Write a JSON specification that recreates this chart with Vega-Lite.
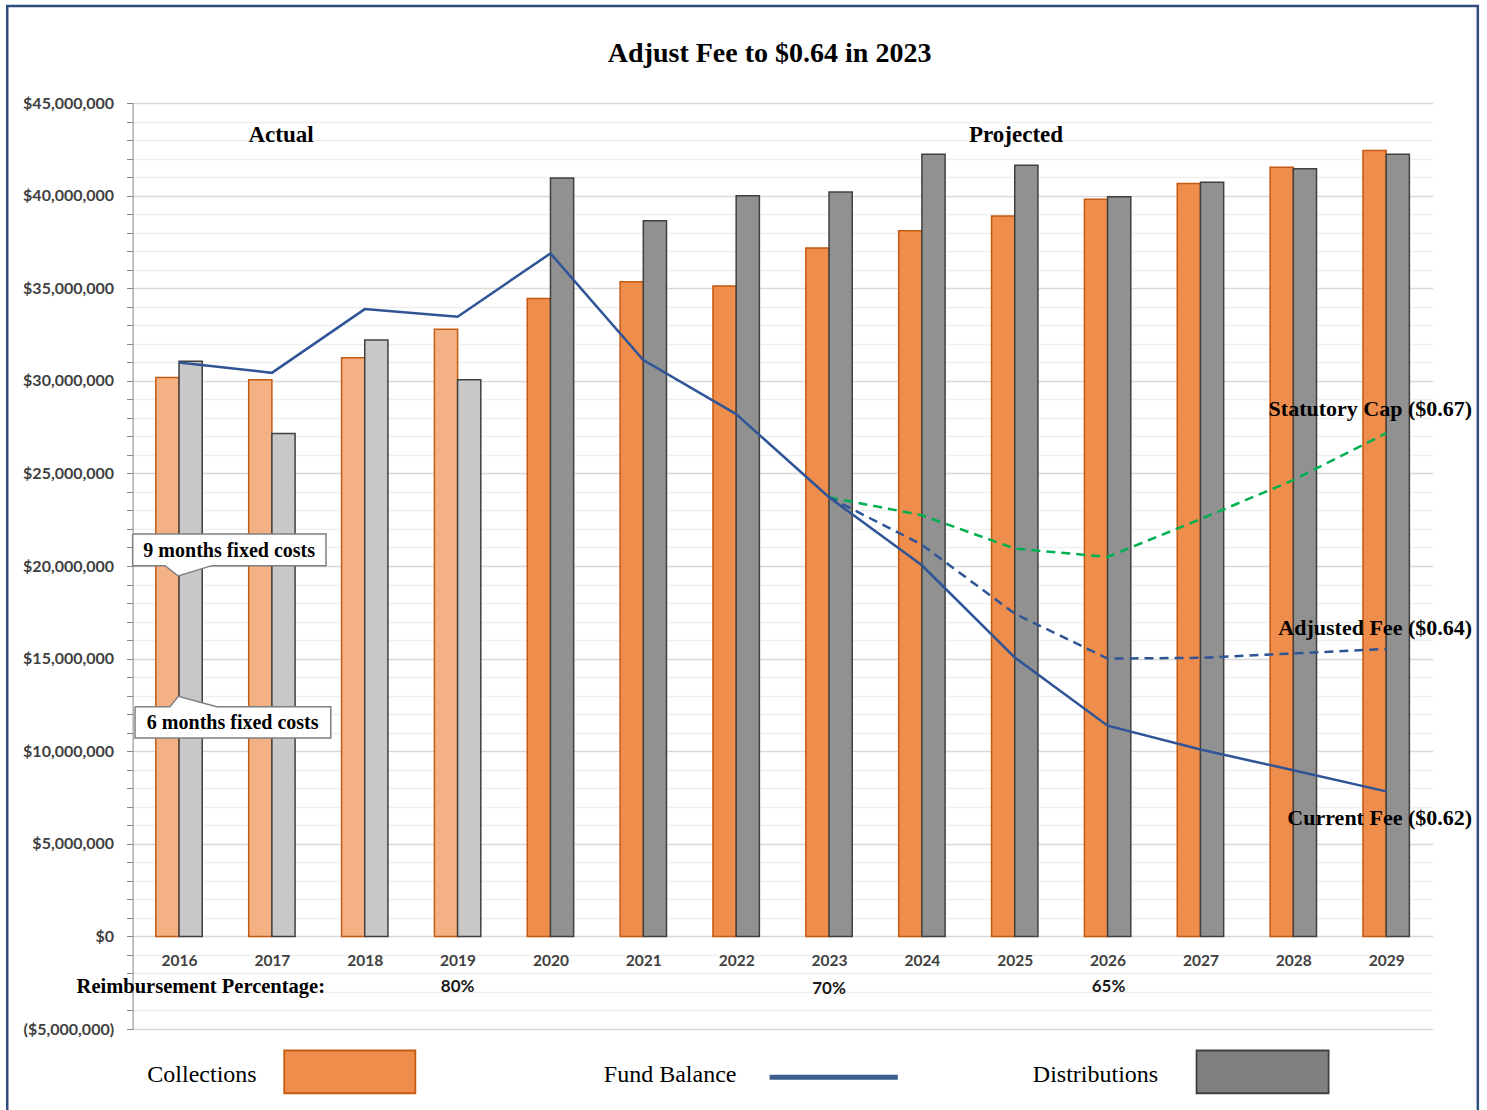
{
  "$schema": "https://vega.github.io/schema/vega-lite/v6.json",
  "width": 1300,
  "height": 926,
  "autosize": "none",
  "padding": {"left": 132.6, "top": 103, "right": 54.4, "bottom": 81},
  "background": "#ffffff",
  "title": {"text": "Adjust Fee to $0.64 in 2023", "font": "Liberation Serif", "fontSize": 28, "fontWeight": "bold", "color": "#000000", "anchor": "middle", "frame": "group", "offset": -85, "baseline": "alphabetic", "dx": -13},
  "config": {"view": {"stroke": null}, "font": "Liberation Serif", "scale": {"continuousPadding": 0}},
  "datasets": {
    "series": [
      {"year": 2016, "period": "Actual", "series": "Collections", "amount": 30180000},
      {"year": 2017, "period": "Actual", "series": "Collections", "amount": 30050000},
      {"year": 2018, "period": "Actual", "series": "Collections", "amount": 31240000},
      {"year": 2019, "period": "Actual", "series": "Collections", "amount": 32790000},
      {"year": 2020, "period": "Projected", "series": "Collections", "amount": 34450000},
      {"year": 2021, "period": "Projected", "series": "Collections", "amount": 35350000},
      {"year": 2022, "period": "Projected", "series": "Collections", "amount": 35120000},
      {"year": 2023, "period": "Projected", "series": "Collections", "amount": 37170000},
      {"year": 2024, "period": "Projected", "series": "Collections", "amount": 38100000},
      {"year": 2025, "period": "Projected", "series": "Collections", "amount": 38900000},
      {"year": 2026, "period": "Projected", "series": "Collections", "amount": 39800000},
      {"year": 2027, "period": "Projected", "series": "Collections", "amount": 40660000},
      {"year": 2028, "period": "Projected", "series": "Collections", "amount": 41530000},
      {"year": 2029, "period": "Projected", "series": "Collections", "amount": 42430000},
      {"year": 2016, "period": "Actual", "series": "Distributions", "amount": 31060000},
      {"year": 2017, "period": "Actual", "series": "Distributions", "amount": 27160000},
      {"year": 2018, "period": "Actual", "series": "Distributions", "amount": 32200000},
      {"year": 2019, "period": "Actual", "series": "Distributions", "amount": 30050000},
      {"year": 2020, "period": "Projected", "series": "Distributions", "amount": 40950000},
      {"year": 2021, "period": "Projected", "series": "Distributions", "amount": 38640000},
      {"year": 2022, "period": "Projected", "series": "Distributions", "amount": 39990000},
      {"year": 2023, "period": "Projected", "series": "Distributions", "amount": 40190000},
      {"year": 2024, "period": "Projected", "series": "Distributions", "amount": 42230000},
      {"year": 2025, "period": "Projected", "series": "Distributions", "amount": 41640000},
      {"year": 2026, "period": "Projected", "series": "Distributions", "amount": 39940000},
      {"year": 2027, "period": "Projected", "series": "Distributions", "amount": 40720000},
      {"year": 2028, "period": "Projected", "series": "Distributions", "amount": 41450000},
      {"year": 2029, "period": "Projected", "series": "Distributions", "amount": 42230000},
      {"year": 2016, "period": "Actual", "series": "Fund Balance", "amount": 30990000},
      {"year": 2017, "period": "Actual", "series": "Fund Balance", "amount": 30430000},
      {"year": 2018, "period": "Actual", "series": "Fund Balance", "amount": 33870000},
      {"year": 2019, "period": "Actual", "series": "Fund Balance", "amount": 33460000},
      {"year": 2020, "period": "Projected", "series": "Fund Balance", "amount": 36880000},
      {"year": 2021, "period": "Projected", "series": "Fund Balance", "amount": 31120000},
      {"year": 2022, "period": "Projected", "series": "Fund Balance", "amount": 28200000},
      {"year": 2023, "period": "Projected", "series": "Fund Balance", "amount": 23710000},
      {"year": 2024, "period": "Projected", "series": "Fund Balance", "amount": 20040000},
      {"year": 2025, "period": "Projected", "series": "Fund Balance", "amount": 15060000},
      {"year": 2026, "period": "Projected", "series": "Fund Balance", "amount": 11380000},
      {"year": 2027, "period": "Projected", "series": "Fund Balance", "amount": 10090000},
      {"year": 2028, "period": "Projected", "series": "Fund Balance", "amount": 8970000},
      {"year": 2029, "period": "Projected", "series": "Fund Balance", "amount": 7830000},
      {"year": 2023, "period": "Projected", "series": "Fund Balance (Adjusted Fee)", "amount": 23710000},
      {"year": 2024, "period": "Projected", "series": "Fund Balance (Adjusted Fee)", "amount": 21150000},
      {"year": 2025, "period": "Projected", "series": "Fund Balance (Adjusted Fee)", "amount": 17430000},
      {"year": 2026, "period": "Projected", "series": "Fund Balance (Adjusted Fee)", "amount": 15000000},
      {"year": 2027, "period": "Projected", "series": "Fund Balance (Adjusted Fee)", "amount": 15040000},
      {"year": 2028, "period": "Projected", "series": "Fund Balance (Adjusted Fee)", "amount": 15280000},
      {"year": 2029, "period": "Projected", "series": "Fund Balance (Adjusted Fee)", "amount": 15520000},
      {"year": 2023, "period": "Projected", "series": "Fund Balance (Statutory Cap)", "amount": 23710000},
      {"year": 2024, "period": "Projected", "series": "Fund Balance (Statutory Cap)", "amount": 22740000},
      {"year": 2025, "period": "Projected", "series": "Fund Balance (Statutory Cap)", "amount": 20940000},
      {"year": 2026, "period": "Projected", "series": "Fund Balance (Statutory Cap)", "amount": 20490000},
      {"year": 2027, "period": "Projected", "series": "Fund Balance (Statutory Cap)", "amount": 22530000},
      {"year": 2028, "period": "Projected", "series": "Fund Balance (Statutory Cap)", "amount": 24640000},
      {"year": 2029, "period": "Projected", "series": "Fund Balance (Statutory Cap)", "amount": 27170000}
    ],
    "levels": [
      {"label": "9 months fixed costs", "kind": "fixed", "amount": 19460000},
      {"label": "Adjusted Fee level", "kind": "fee", "amount": 16220000},
      {"label": "6 months fixed costs", "kind": "fixed", "amount": 12960000}
    ],
    "callouts": [
      {"callout": "9 months", "ord": 1, "year": 2015.501, "amount": 21730000},
      {"callout": "9 months", "ord": 2, "year": 2017.583, "amount": 21730000},
      {"callout": "9 months", "ord": 3, "year": 2017.583, "amount": 20020000},
      {"callout": "9 months", "ord": 4, "year": 2016.352, "amount": 20020000},
      {"callout": "9 months", "ord": 5, "year": 2015.992, "amount": 19460000},
      {"callout": "9 months", "ord": 6, "year": 2015.849, "amount": 20020000},
      {"callout": "9 months", "ord": 7, "year": 2015.501, "amount": 20020000},
      {"callout": "9 months", "ord": 8, "year": 2015.501, "amount": 21730000},
      {"callout": "6 months", "ord": 1, "year": 2015.526, "amount": 12400000},
      {"callout": "6 months", "ord": 2, "year": 2015.903, "amount": 12400000},
      {"callout": "6 months", "ord": 3, "year": 2015.992, "amount": 12960000},
      {"callout": "6 months", "ord": 4, "year": 2016.406, "amount": 12400000},
      {"callout": "6 months", "ord": 5, "year": 2017.634, "amount": 12400000},
      {"callout": "6 months", "ord": 6, "year": 2017.634, "amount": 10710000},
      {"callout": "6 months", "ord": 7, "year": 2015.526, "amount": 10710000},
      {"callout": "6 months", "ord": 8, "year": 2015.526, "amount": 12400000}
    ],
    "notes": [
      {"text": "Actual", "style": "header", "year": 2017.098, "amount": 42910000},
      {"text": "Projected", "style": "header", "year": 2025.014, "amount": 42910000},
      {"text": "Statutory Cap ($0.67)", "style": "end", "year": 2029.925, "amount": 28090000},
      {"text": "Adjusted Fee ($0.64)", "style": "end", "year": 2029.925, "amount": 16260000},
      {"text": "Current Fee ($0.62)", "style": "end", "year": 2029.925, "amount": 6000000},
      {"text": "9 months fixed costs", "style": "callout", "year": 2016.54, "amount": 20490000},
      {"text": "6 months fixed costs", "style": "callout", "year": 2016.578, "amount": 11220000},
      {"text": "Reimbursement Percentage:", "style": "row", "year": 2014.897, "amount": -3060000},
      {"text": "80%", "style": "pct", "year": 2019.0, "amount": -3010000},
      {"text": "70%", "style": "pct", "year": 2023.0, "amount": -3130000},
      {"text": "65%", "style": "pct", "year": 2026.01, "amount": -3010000},
      {"text": "Collections", "style": "legend", "year": 2015.659, "amount": -7870000},
      {"text": "Fund Balance", "style": "legend", "year": 2020.575, "amount": -7870000},
      {"text": "Distributions", "style": "legend", "year": 2025.195, "amount": -7870000}
    ],
    "legend_boxes": [
      {"item": "Collections", "year": 2017.133, "year2": 2018.545, "amount": -6160000, "amount2": -8470000},
      {"item": "Distributions", "year": 2026.958, "year2": 2028.38, "amount": -6160000, "amount2": -8470000}
    ],
    "legend_line": [
      {"item": "Fund Balance", "year": 2022.36, "year2": 2023.741, "amount": -7600000}
    ],
    "frame": [
      {"year": 2014.15, "year2": 2029.987, "amount": 50240000, "amount2": -10000000}
    ]
  },
  "encoding": {
    "x": {
      "field": "year", "type": "quantitative",
      "scale": {"domain": [2015.5, 2029.5], "nice": false, "zero": false, "padding": 0},
      "axis": {"title": null, "values": [2016, 2017, 2018, 2019, 2020, 2021, 2022, 2023, 2024, 2025, 2026, 2027, 2028, 2029], "format": "d", "offset": -93, "domain": false, "ticks": false, "tickSize": 0, "grid": false, "labelFont": "Lato", "labelFontWeight": "bold", "labelFontSize": 15.5, "labelColor": "#404040", "labelBaseline": "alphabetic", "labelPadding": 29, "labelFlush": false, "labelOverlap": false, "labelBound": false}
    },
    "y": {
      "field": "amount", "type": "quantitative",
      "scale": {"domain": [-5000000, 45000000], "nice": false, "zero": false, "padding": 0},
      "axis": {
        "title": null,
        "values": [-5000000, -4000000, -3000000, -2000000, -1000000, 0, 1000000, 2000000, 3000000, 4000000, 5000000, 6000000, 7000000, 8000000, 9000000, 10000000, 11000000, 12000000, 13000000, 14000000, 15000000, 16000000, 17000000, 18000000, 19000000, 20000000, 21000000, 22000000, 23000000, 24000000, 25000000, 26000000, 27000000, 28000000, 29000000, 30000000, 31000000, 32000000, 33000000, 34000000, 35000000, 36000000, 37000000, 38000000, 39000000, 40000000, 41000000, 42000000, 43000000, 44000000, 45000000],
        "labelExpr": "datum.value % 5000000 === 0 ? (datum.value < 0 ? '($' + format(-datum.value, ',') + ')' : '$' + format(datum.value, ',')) : ''",
        "grid": true,
        "gridColor": {"condition": {"test": "datum.value % 5000000 === 0", "value": "#d9d9d9"}, "value": "#f0f0f0"},
        "gridWidth": 1.3,
        "tickSize": 6, "tickColor": "#868686", "domainColor": "#868686",
        "labelFont": "Lato", "labelFontWeight": "bold", "labelFontSize": 16, "labelColor": "#404040",
        "labelPadding": 13, "labelOverlap": false, "labelBound": false, "labelFlush": false
      }
    }
  },
  "layer": [
    {
      "data": {"name": "frame"},
      "mark": {"type": "rect", "filled": false, "stroke": "#2F4E7E", "strokeWidth": 2.5},
      "encoding": {"x2": {"field": "year2"}, "y2": {"field": "amount2"}}
    },
    {
      "data": {"name": "series"},
      "transform": [{"filter": "datum.series === 'Collections'"}],
      "mark": {"type": "bar", "orient": "vertical", "width": 23.2, "xOffset": -11.6, "stroke": "#C55A11", "strokeWidth": 1.5},
      "encoding": {
        "y2": {"datum": 0},
        "color": {"condition": {"test": "datum.period === 'Actual'", "value": "#F4B183"}, "value": "#EE8D4C"}
      }
    },
    {
      "data": {"name": "series"},
      "transform": [{"filter": "datum.series === 'Distributions'"}],
      "mark": {"type": "bar", "orient": "vertical", "width": 23.2, "xOffset": 11.6, "stroke": "#404040", "strokeWidth": 1.5},
      "encoding": {
        "y2": {"datum": 0},
        "color": {"condition": {"test": "datum.period === 'Actual'", "value": "#C8C8C8"}, "value": "#919191"}
      }
    },
    {
      "data": {"values": [{"label": "Actual | Projected divider"}]},
      "mark": {"type": "rule", "color": "#5B9BD5", "strokeWidth": 1},
      "encoding": {
        "x": {"datum": 2019.478, "type": "quantitative"},
        "x2": {"datum": 2019.543},
        "y": {"datum": 45000000, "type": "quantitative"},
        "y2": {"datum": -3350000}
      }
    },
    {
      "data": {"name": "levels"},
      "mark": {"type": "rule", "strokeWidth": 2.5},
      "encoding": {
        "x": {"datum": 2016, "type": "quantitative"},
        "x2": {"datum": 2029},
        "color": {"condition": {"test": "datum.kind === 'fee'", "value": "#C5E0B4"}, "value": "#3A5A24"}
      }
    },
    {
      "data": {"name": "series"},
      "transform": [{"filter": "datum.series === 'Fund Balance (Statutory Cap)'"}],
      "mark": {"type": "line", "color": "#00B050", "strokeWidth": 2.5, "strokeDash": [9, 6]}
    },
    {
      "data": {"name": "series"},
      "transform": [{"filter": "datum.series === 'Fund Balance (Adjusted Fee)'"}],
      "mark": {"type": "line", "color": "#2F5597", "strokeWidth": 2.5, "strokeDash": [9, 6]}
    },
    {
      "data": {"name": "series"},
      "transform": [{"filter": "datum.series === 'Fund Balance'"}],
      "mark": {"type": "line", "color": "#2F5597", "strokeWidth": 2.5}
    },
    {
      "data": {"name": "callouts"},
      "mark": {"type": "line", "fill": "#ffffff", "stroke": "#7f7f7f", "strokeWidth": 1.5, "interpolate": "linear"},
      "encoding": {"detail": {"field": "callout"}, "order": {"field": "ord", "type": "quantitative"}}
    },
    {
      "data": {"name": "notes"},
      "transform": [{"filter": "datum.style === 'callout'"}],
      "mark": {"type": "text", "font": "Liberation Serif", "fontWeight": "bold", "fontSize": 20, "align": "center", "baseline": "alphabetic", "color": "#000000"},
      "encoding": {"text": {"field": "text"}}
    },
    {
      "data": {"name": "notes"},
      "transform": [{"filter": "datum.style === 'header'"}],
      "mark": {"type": "text", "font": "Liberation Serif", "fontWeight": "bold", "fontSize": 23, "align": "center", "baseline": "alphabetic", "color": "#000000"},
      "encoding": {"text": {"field": "text"}}
    },
    {
      "data": {"name": "notes"},
      "transform": [{"filter": "datum.style === 'end'"}],
      "mark": {"type": "text", "font": "Liberation Serif", "fontWeight": "bold", "fontSize": 22, "align": "right", "baseline": "alphabetic", "color": "#000000"},
      "encoding": {"text": {"field": "text"}}
    },
    {
      "data": {"name": "notes"},
      "transform": [{"filter": "datum.style === 'row'"}],
      "mark": {"type": "text", "font": "Liberation Serif", "fontWeight": "bold", "fontSize": 20.5, "align": "left", "baseline": "alphabetic", "color": "#000000"},
      "encoding": {"text": {"field": "text"}}
    },
    {
      "data": {"name": "notes"},
      "transform": [{"filter": "datum.style === 'pct'"}],
      "mark": {"type": "text", "font": "Lato", "fontWeight": "bold", "fontSize": 17, "align": "center", "baseline": "alphabetic", "color": "#1a1a1a"},
      "encoding": {"text": {"field": "text"}}
    },
    {
      "data": {"name": "notes"},
      "transform": [{"filter": "datum.style === 'legend'"}],
      "mark": {"type": "text", "font": "Liberation Serif", "fontWeight": "normal", "fontSize": 24, "align": "left", "baseline": "alphabetic", "color": "#000000"},
      "encoding": {"text": {"field": "text"}}
    },
    {
      "data": {"name": "legend_boxes"},
      "mark": {"type": "rect", "strokeWidth": 1.8},
      "encoding": {
        "x2": {"field": "year2"}, "y2": {"field": "amount2"},
        "color": {"condition": {"test": "datum.item === 'Collections'", "value": "#EE8D4C"}, "value": "#808080"},
        "stroke": {"condition": {"test": "datum.item === 'Collections'", "value": "#C55A11"}, "value": "#404040"}
      }
    },
    {
      "data": {"name": "legend_line"},
      "mark": {"type": "rule", "color": "#3B5E8C", "strokeWidth": 5},
      "encoding": {"x2": {"field": "year2"}}
    }
  ]
}
